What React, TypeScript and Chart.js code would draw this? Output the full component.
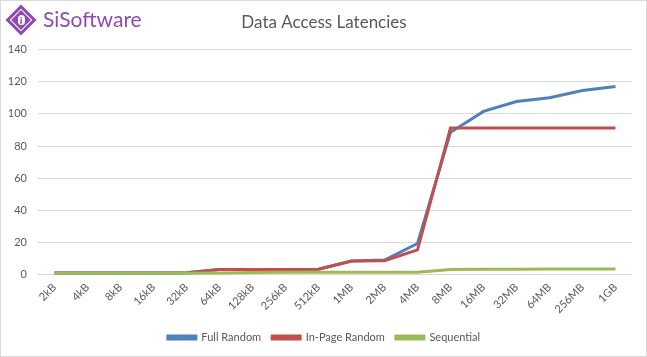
import React, { useEffect, useRef } from "react";
import { Chart, registerables } from "chart.js";

Chart.register(...registerables);

const categories = ["2kB", "4kB", "8kB", "16kB", "32kB", "64kB", "128kB", "256kB", "512kB", "1MB", "2MB", "4MB", "8MB", "16MB", "32MB", "64MB", "256MB", "1GB"];
const fullRandom = [1.2, 1.2, 1.2, 1.2, 1.3, 3.3, 3.4, 3.4, 3.5, 8.6, 9.2, 19.5, 88.5, 101.5, 107.6, 110, 114.5, 117];
const inPageRandom = [1.2, 1.2, 1.2, 1.2, 1.3, 3.3, 3.4, 3.4, 3.5, 8.6, 8.8, 15.5, 91.2, 91.2, 91.2, 91.2, 91.2, 91.2];
const sequential = [1, 1, 1, 1, 1, 1.1, 1.5, 1.6, 1.6, 1.6, 1.6, 1.7, 3.4, 3.5, 3.5, 3.6, 3.6, 3.6];
const yTicks = [0, 20, 40, 60, 80, 100, 120, 140];

const FONT = "Lato, 'Open Sans', sans-serif";
const PURPLE = "#8E4BB0";

const shiftPlugin = {
  id: "shiftBlocks",
  afterLayout(chart: any) {
    const dx = 8;
    if (chart.legend) { chart.legend.left += dx; chart.legend.right += dx; }
    if (chart.titleBlock) { chart.titleBlock.left += dx; chart.titleBlock.right += dx; }
  },
};

export default function App() {
  const ref = useRef<HTMLCanvasElement | null>(null);
  useEffect(() => {
    document.body.style.margin = "0";
    const ctx = ref.current!;
    const chart = new Chart(ctx, {
      type: "line",
      data: {
        labels: categories,
        datasets: [
          { label: "Full Random", data: fullRandom, borderColor: "#4F81BD", backgroundColor: "#4F81BD", borderWidth: 3, pointRadius: 0, tension: 0, order: 3 },
          { label: "In-Page Random", data: inPageRandom, borderColor: "#C0504D", backgroundColor: "#C0504D", borderWidth: 3, pointRadius: 0, tension: 0, order: 2 },
          { label: "Sequential", data: sequential, borderColor: "#9BBB59", backgroundColor: "#9BBB59", borderWidth: 3, pointRadius: 0, tension: 0, order: 1 },
        ],
      },
      plugins: [shiftPlugin],
      options: {
        animation: false,
        responsive: false,
        maintainAspectRatio: false,
        layout: { padding: { left: 0, right: 15, top: 0, bottom: 4 } },
        plugins: {
          title: {
            display: true,
            text: "Data Access Latencies",
            color: "#595959",
            font: { family: FONT, size: 17, weight: "normal" },
            padding: { top: 12, bottom: 17 },
          },
          legend: {
            position: "bottom",
            labels: {
              color: "#595959",
              font: { family: FONT, size: 11 },
              boxWidth: 28,
              boxHeight: 3,
              padding: 11,
              sort: (a: any, b: any) => a.datasetIndex - b.datasetIndex,
            },
          },
          tooltip: { enabled: false },
        },
        scales: {
          x: {
            offset: true,
            grid: { display: false },
            border: { display: false },
            ticks: {
              color: "#595959",
              font: { family: FONT, size: 11 },
              minRotation: 45,
              maxRotation: 45,
              autoSkip: false,
              padding: -2,
            },
            afterFit: (s: any) => { s.height += 7; },
          },
          y: {
            min: 0,
            max: 140,
            afterBuildTicks: (s: any) => { s.ticks = yTicks.map((v) => ({ value: v })); },
            grid: { color: "#D9D9D9", lineWidth: 1, drawTicks: false },
            border: { display: false },
            ticks: {
              color: "#595959",
              font: { family: FONT, size: 11 },
              padding: 11,
            },
            afterFit: (s: any) => { s.width = 38; },
          },
        },
      },
    });
    return () => chart.destroy();
  }, []);

  return (
    <div style={{ position: "fixed", left: 0, top: 0, width: 647, height: 357, background: "#fff" }}>
      <canvas ref={ref} width={647} height={357} style={{ position: "absolute", left: 0, top: 0, width: 647, height: 357 }} />
      <div style={{ position: "absolute", left: 0, top: 0, width: 645, height: 355, border: "1px solid #D9D9D9", pointerEvents: "none" }} />
      <div style={{ position: "absolute", left: 10, top: 8.5, width: 22, height: 22, border: `3px solid ${PURPLE}`, transform: "rotate(45deg)", boxSizing: "border-box" }} />
      <div style={{ position: "absolute", left: 14, top: 12.5, width: 14, height: 14, background: PURPLE, transform: "rotate(45deg)" }} />
      <div style={{ position: "absolute", left: 17.5, top: 14.5, width: 7, height: 10, borderRadius: 4, background: "#fff" }} />
      <div style={{ position: "absolute", left: 15, top: 11.5, width: 12, fontFamily: "Lato, sans-serif", fontWeight: 900, fontSize: 10, color: PURPLE, textAlign: "center", lineHeight: "16px" }}>i</div>
      <div style={{ position: "absolute", left: 43, top: 5, fontFamily: "Lato, sans-serif", fontSize: 21, color: PURPLE, lineHeight: "28px" }}>SiSoftware</div>
    </div>
  );
}
